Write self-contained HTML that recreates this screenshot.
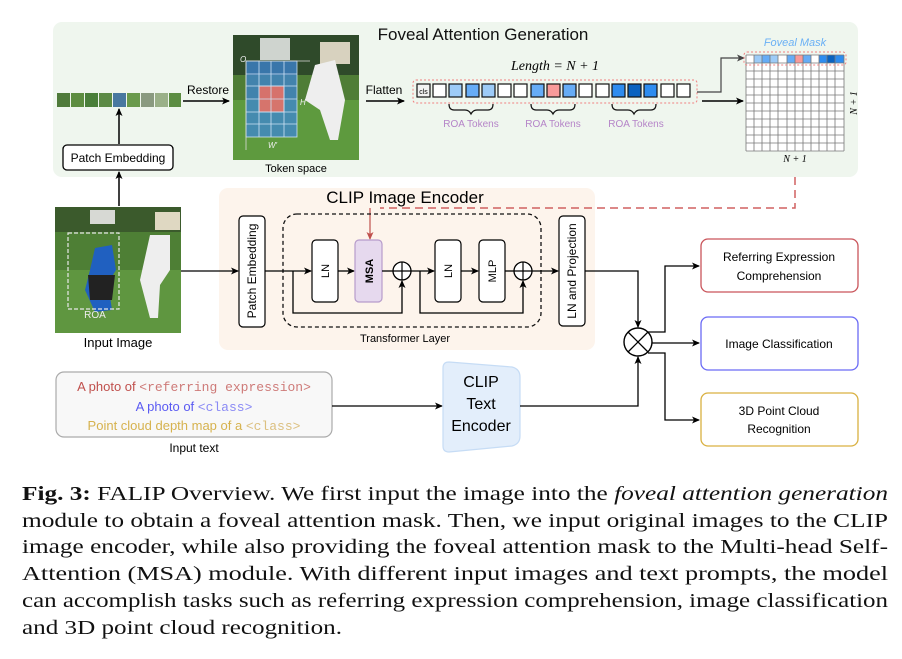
<!DOCTYPE html>
<html><head><meta charset="utf-8"><style>
html,body{margin:0;padding:0;background:#fff;}
svg{display:block;}
text{font-family:"Liberation Sans",sans-serif;}
.cap{font-family:"Liberation Serif",serif;font-size:20px;fill:#111;}
</style></head><body>
<svg width="902" height="659" viewBox="0 0 902 659" xmlns="http://www.w3.org/2000/svg">
<defs>
<marker id="ah" markerWidth="8" markerHeight="8" refX="7" refY="4" orient="auto" markerUnits="userSpaceOnUse"><path d="M0,0.5 L8,4 L0,7.5 L2,4z" fill="#000"/></marker>
<marker id="ahr" markerWidth="8" markerHeight="8" refX="7" refY="4" orient="auto" markerUnits="userSpaceOnUse"><path d="M0,0.5 L8,4 L0,7.5 L2,4z" fill="#c0504d"/></marker>
<marker id="ahg" markerWidth="8" markerHeight="8" refX="7" refY="4" orient="auto" markerUnits="userSpaceOnUse"><path d="M0,0.5 L8,4 L0,7.5 L2,4z" fill="#444"/></marker>
</defs>

<rect x="53" y="22" width="805" height="155" rx="9" fill="#eff6ee"/>
<text x="483" y="40" font-size="17" text-anchor="middle" fill="#111">Foveal Attention Generation</text>

<g>
<rect x="57" y="93" width="13" height="14" fill="#4f7a3a"/>
<rect x="71" y="93" width="13" height="14" fill="#5d8d40"/>
<rect x="85" y="93" width="13" height="14" fill="#4a7f3a"/>
<rect x="99" y="93" width="13" height="14" fill="#5c8a45"/>
<rect x="113" y="93" width="13" height="14" fill="#4878a0"/>
<rect x="127" y="93" width="13" height="14" fill="#6a9a4c"/>
<rect x="141" y="93" width="13" height="14" fill="#8a9a80"/>
<rect x="155" y="93" width="13" height="14" fill="#9ab088"/>
<rect x="169" y="93" width="12" height="14" fill="#5c8d42"/>
</g>
<line x1="119" y1="144" x2="119" y2="109" stroke="#000" stroke-width="1.5" marker-end="url(#ah)"/>
<rect x="63" y="145" width="110" height="25" rx="4" fill="#fff" stroke="#000" stroke-width="1.3"/>
<text x="118" y="162" font-size="12" text-anchor="middle">Patch Embedding</text>
<line x1="119" y1="206" x2="119" y2="172" stroke="#000" stroke-width="1.5" marker-end="url(#ah)"/>

<text x="208" y="94" font-size="12" text-anchor="middle">Restore</text>
<line x1="183" y1="101" x2="229" y2="101" stroke="#000" stroke-width="1.5" marker-end="url(#ah)"/>

<rect x="233" y="35" width="126" height="125" fill="#4f7d36"/>
<rect x="233" y="35" width="126" height="40" fill="#2f4a2a"/>
<rect x="260" y="38" width="30" height="22" fill="#cfd4cf"/>
<rect x="320" y="42" width="30" height="22" fill="#d8d2bf"/>
<rect x="233" y="100" width="126" height="60" fill="#5e9a3e"/>
<path d="M315,65 L335,60 L345,100 L338,140 L330,140 L320,110 L305,100z" fill="#eee"/>
<g stroke="#cfe3f5" stroke-width="0.8">
<rect x="246" y="61" width="51" height="76" fill="#3d86d6" fill-opacity="0.75"/>
<rect x="259" y="86" width="25" height="26" fill="#f07060" fill-opacity="0.85"/>
<line x1="259" y1="61" x2="259" y2="137"/><line x1="271" y1="61" x2="271" y2="137"/><line x1="284" y1="61" x2="284" y2="137"/>
<line x1="246" y1="74" x2="297" y2="74"/><line x1="246" y1="86" x2="297" y2="86"/><line x1="246" y1="99" x2="297" y2="99"/><line x1="246" y1="112" x2="297" y2="112"/><line x1="246" y1="124" x2="297" y2="124"/>
</g>
<line x1="246" y1="61" x2="310" y2="61" stroke="#ddd" stroke-width="0.8"/>
<line x1="246" y1="61" x2="246" y2="150" stroke="#ddd" stroke-width="0.8"/>
<text x="240" y="62" font-size="8" fill="#eee" font-style="italic">O</text>
<text x="300" y="105" font-size="8" fill="#eee" font-style="italic">H'</text>
<text x="268" y="148" font-size="8" fill="#eee" font-style="italic">W'</text>
<text x="296" y="172" font-size="11" text-anchor="middle">Token space</text>

<text x="384" y="94" font-size="12" text-anchor="middle">Flatten</text>
<line x1="366" y1="101" x2="404" y2="101" stroke="#000" stroke-width="1.5" marker-end="url(#ah)"/>

<text x="555" y="70" font-size="14" text-anchor="middle" font-style="italic" style="font-family:'Liberation Serif',serif">Length = N + 1</text>
<rect x="413" y="80" width="284" height="23" rx="3" fill="none" stroke="#f08080" stroke-dasharray="2,2"/>
<g stroke="#111" stroke-width="1.2">
<rect x="417" y="84" width="13" height="13" fill="#f2f2f2"/>
<rect x="433" y="84" width="13" height="13" fill="#fff"/>
<rect x="449" y="84" width="13" height="13" fill="#9dcbf7"/>
<rect x="466" y="84" width="13" height="13" fill="#66acf6"/>
<rect x="482" y="84" width="13" height="13" fill="#9dcbf7"/>
<rect x="498" y="84" width="13" height="13" fill="#fff"/>
<rect x="514" y="84" width="13" height="13" fill="#fff"/>
<rect x="531" y="84" width="13" height="13" fill="#66acf6"/>
<rect x="547" y="84" width="13" height="13" fill="#f89a9a"/>
<rect x="563" y="84" width="13" height="13" fill="#66acf6"/>
<rect x="579" y="84" width="13" height="13" fill="#fff"/>
<rect x="596" y="84" width="13" height="13" fill="#fff"/>
<rect x="612" y="84" width="13" height="13" fill="#2e8cef"/>
<rect x="628" y="84" width="13" height="13" fill="#0a62c0"/>
<rect x="644" y="84" width="13" height="13" fill="#2e8cef"/>
<rect x="661" y="84" width="13" height="13" fill="#fff"/>
<rect x="677" y="84" width="13" height="13" fill="#fff"/>
</g>
<text x="423.5" y="94" font-size="7" text-anchor="middle">cls</text>
<g fill="none" stroke="#111" stroke-width="1.2">
<path d="M449,104 q0,6 5,6 h11 q4,0 6,4 q2,-4 6,-4 h11 q5,0 5,-6"/>
<path d="M531,104 q0,6 5,6 h11 q4,0 6,4 q2,-4 6,-4 h11 q5,0 5,-6"/>
<path d="M612,104 q0,6 5,6 h11 q4,0 6,4 q2,-4 6,-4 h11 q5,0 5,-6"/>
</g>
<g font-size="10" fill="#b584c8" text-anchor="middle">
<text x="471" y="127">ROA Tokens</text><text x="553" y="127">ROA Tokens</text><text x="636" y="127">ROA Tokens</text>
</g>
<polyline points="697,92 721,92 721,58 744,58" fill="none" stroke="#444" stroke-width="1.2" marker-end="url(#ahg)"/>
<line x1="702" y1="101" x2="743" y2="101" stroke="#000" stroke-width="1.5" marker-end="url(#ah)"/>

<text x="795" y="46" font-size="11" text-anchor="middle" font-style="italic" fill="#6ab0f5">Foveal Mask</text>
<g>
<rect x="746" y="55" width="98" height="96" fill="#fff"/>
<rect x="754" y="55" width="8" height="8" fill="#9dcbf7"/>
<rect x="762" y="55" width="8" height="8" fill="#66acf6"/>
<rect x="770" y="55" width="8" height="8" fill="#9dcbf7"/>
<rect x="787" y="55" width="8" height="8" fill="#66acf6"/>
<rect x="795" y="55" width="8" height="8" fill="#f89a9a"/>
<rect x="803" y="55" width="8" height="8" fill="#66acf6"/>
<rect x="819" y="55" width="8" height="8" fill="#2e8cef"/>
<rect x="827" y="55" width="8" height="8" fill="#0a62c0"/>
<rect x="835" y="55" width="9" height="8" fill="#2e8cef"/>
<g stroke="#777" stroke-width="0.8">
<line x1="746" y1="55" x2="746" y2="151"/><line x1="754" y1="55" x2="754" y2="151"/><line x1="762" y1="55" x2="762" y2="151"/><line x1="770" y1="55" x2="770" y2="151"/><line x1="778" y1="55" x2="778" y2="151"/><line x1="787" y1="55" x2="787" y2="151"/><line x1="795" y1="55" x2="795" y2="151"/><line x1="803" y1="55" x2="803" y2="151"/><line x1="811" y1="55" x2="811" y2="151"/><line x1="819" y1="55" x2="819" y2="151"/><line x1="827" y1="55" x2="827" y2="151"/><line x1="835" y1="55" x2="835" y2="151"/><line x1="844" y1="55" x2="844" y2="151"/>
<line x1="746" y1="55" x2="844" y2="55"/><line x1="746" y1="63" x2="844" y2="63"/><line x1="746" y1="71" x2="844" y2="71"/><line x1="746" y1="79" x2="844" y2="79"/><line x1="746" y1="87" x2="844" y2="87"/><line x1="746" y1="95" x2="844" y2="95"/><line x1="746" y1="103" x2="844" y2="103"/><line x1="746" y1="111" x2="844" y2="111"/><line x1="746" y1="119" x2="844" y2="119"/><line x1="746" y1="127" x2="844" y2="127"/><line x1="746" y1="135" x2="844" y2="135"/><line x1="746" y1="143" x2="844" y2="143"/><line x1="746" y1="151" x2="844" y2="151"/>
</g>
<rect x="744" y="52" width="102" height="13" rx="3" fill="none" stroke="#f08080" stroke-dasharray="2,2"/>
</g>
<text x="795" y="162" font-size="10" text-anchor="middle" font-style="italic" style="font-family:'Liberation Serif',serif">N + 1</text>
<text transform="translate(857,103) rotate(-90)" font-size="10" text-anchor="middle" font-style="italic" style="font-family:'Liberation Serif',serif">N + 1</text>

<rect x="219" y="188" width="376" height="162" rx="9" fill="#fdf4ec"/>
<text x="405" y="203" font-size="17" text-anchor="middle">CLIP Image Encoder</text>

<polyline points="795,177 795,208 380,208" fill="none" stroke="#d06060" stroke-width="1.5" stroke-dasharray="8,5"/>
<line x1="370" y1="208" x2="370" y2="239" stroke="#c0504d" stroke-width="1.2" marker-end="url(#ahr)"/>

<rect x="55" y="207" width="126" height="126" fill="#4e7f35"/>
<rect x="55" y="207" width="126" height="25" fill="#3b5a2c"/>
<rect x="90" y="210" width="25" height="14" fill="#d7d9d4"/>
<rect x="155" y="212" width="25" height="18" fill="#dfd8c2"/>
<rect x="55" y="270" width="126" height="63" fill="#5f9640"/>
<path d="M95,248 L112,245 L116,270 L108,283 L112,310 L95,312 L85,290 L90,270z" fill="#2060c0"/>
<path d="M88,275 L115,275 L112,300 L90,300z" fill="#222"/>
<path d="M150,235 L170,235 L170,270 L160,285 L158,318 L150,318 L140,280z" fill="#eee"/>
<rect x="68" y="233" width="51" height="76" fill="none" stroke="#e8e8e8" stroke-width="1.2" stroke-dasharray="4,2"/>
<text x="95" y="318" font-size="10" fill="#eee" text-anchor="middle">ROA</text>
<text x="118" y="347" font-size="13" text-anchor="middle">Input Image</text>

<line x1="181" y1="271" x2="238" y2="271" stroke="#000" stroke-width="1.3" marker-end="url(#ah)"/>
<rect x="239" y="216" width="26" height="111" rx="4" fill="#fff" stroke="#000" stroke-width="1.2"/>
<text transform="translate(256,271) rotate(-90)" font-size="12" text-anchor="middle">Patch Embedding</text>

<rect x="283" y="214" width="258" height="113" rx="14" fill="none" stroke="#111" stroke-width="1.3" stroke-dasharray="4,3"/>
<line x1="265" y1="271" x2="311" y2="271" stroke="#000" stroke-width="1.3" marker-end="url(#ah)"/>
<rect x="312" y="240" width="26" height="62" rx="4" fill="#fff" stroke="#000" stroke-width="1.2"/>
<text transform="translate(329,271) rotate(-90)" font-size="11" text-anchor="middle">LN</text>
<line x1="338" y1="271" x2="354" y2="271" stroke="#000" stroke-width="1.3" marker-end="url(#ah)"/>
<rect x="355" y="240" width="27" height="62" rx="4" fill="#e6d9ee" stroke="#b79ccb" stroke-width="1.2"/>
<text transform="translate(373,271) rotate(-90)" font-size="11" font-weight="bold" text-anchor="middle">MSA</text>
<line x1="382" y1="271" x2="393" y2="271" stroke="#000" stroke-width="1.3"/>
<circle cx="402" cy="271" r="9" fill="#fff" stroke="#000" stroke-width="1.3"/>
<line x1="393" y1="271" x2="411" y2="271" stroke="#000" stroke-width="1.2"/><line x1="402" y1="262" x2="402" y2="280" stroke="#000" stroke-width="1.2"/>
<polyline points="293,271 293,313 402,313 402,281" fill="none" stroke="#000" stroke-width="1.3" marker-end="url(#ah)"/>
<line x1="411" y1="271" x2="434" y2="271" stroke="#000" stroke-width="1.3" marker-end="url(#ah)"/>
<rect x="435" y="240" width="26" height="62" rx="4" fill="#fff" stroke="#000" stroke-width="1.2"/>
<text transform="translate(452,271) rotate(-90)" font-size="11" text-anchor="middle">LN</text>
<line x1="461" y1="271" x2="478" y2="271" stroke="#000" stroke-width="1.3" marker-end="url(#ah)"/>
<rect x="479" y="240" width="26" height="62" rx="4" fill="#fff" stroke="#000" stroke-width="1.2"/>
<text transform="translate(496,271) rotate(-90)" font-size="11" text-anchor="middle">MLP</text>
<line x1="505" y1="271" x2="514" y2="271" stroke="#000" stroke-width="1.3"/>
<circle cx="523" cy="271" r="9" fill="#fff" stroke="#000" stroke-width="1.3"/>
<line x1="514" y1="271" x2="532" y2="271" stroke="#000" stroke-width="1.2"/><line x1="523" y1="262" x2="523" y2="280" stroke="#000" stroke-width="1.2"/>
<polyline points="420,271 420,313 523,313 523,281" fill="none" stroke="#000" stroke-width="1.3" marker-end="url(#ah)"/>
<line x1="532" y1="271" x2="558" y2="271" stroke="#000" stroke-width="1.3" marker-end="url(#ah)"/>
<rect x="559" y="216" width="26" height="110" rx="4" fill="#fff" stroke="#000" stroke-width="1.2"/>
<text transform="translate(576,271) rotate(-90)" font-size="12" text-anchor="middle">LN and Projection</text>
<text x="405" y="342" font-size="11" text-anchor="middle">Transformer Layer</text>

<polyline points="585,271 638,271 638,327" fill="none" stroke="#000" stroke-width="1.3" marker-end="url(#ah)"/>
<circle cx="638" cy="342" r="14" fill="#fff" stroke="#000" stroke-width="1.4"/>
<line x1="628" y1="332" x2="648" y2="352" stroke="#000" stroke-width="1.3"/><line x1="648" y1="332" x2="628" y2="352" stroke="#000" stroke-width="1.3"/>
<polyline points="648,332 665,332 665,266 699,266" fill="none" stroke="#000" stroke-width="1.3" marker-end="url(#ah)"/>
<line x1="652" y1="343" x2="699" y2="343" stroke="#000" stroke-width="1.3" marker-end="url(#ah)"/>
<polyline points="648,353 665,353 665,420 699,420" fill="none" stroke="#000" stroke-width="1.3" marker-end="url(#ah)"/>

<rect x="701" y="239" width="157" height="53" rx="7" fill="#fff" stroke="#c9545a" stroke-width="1.3"/>
<text x="779" y="261" font-size="12" text-anchor="middle">Referring Expression</text>
<text x="779" y="280" font-size="12" text-anchor="middle">Comprehension</text>
<rect x="701" y="317" width="157" height="53" rx="7" fill="#fff" stroke="#6a6af5" stroke-width="1.3"/>
<text x="779" y="348" font-size="12" text-anchor="middle">Image Classification</text>
<rect x="701" y="393" width="157" height="53" rx="7" fill="#fff" stroke="#d9b040" stroke-width="1.3"/>
<text x="779" y="415" font-size="12" text-anchor="middle">3D Point Cloud</text>
<text x="779" y="433" font-size="12" text-anchor="middle">Recognition</text>

<rect x="56" y="372" width="276" height="65" rx="8" fill="#f8f8f8" stroke="#aaa" stroke-width="1.2"/>
<text x="194" y="391" font-size="13" text-anchor="middle"><tspan fill="#c0504d">A photo of </tspan><tspan fill="#c0504d" fill-opacity="0.75" style="font-family:'Liberation Mono',monospace">&lt;referring expression&gt;</tspan></text>
<text x="194" y="411" font-size="13" text-anchor="middle"><tspan fill="#5a5af2">A photo of </tspan><tspan fill="#8a8af5" style="font-family:'Liberation Mono',monospace">&lt;class&gt;</tspan></text>
<text x="194" y="430" font-size="13" text-anchor="middle"><tspan fill="#d6b24e">Point cloud depth map of a </tspan><tspan fill="#dcc080" style="font-family:'Liberation Mono',monospace">&lt;class&gt;</tspan></text>
<text x="194" y="452" font-size="12" text-anchor="middle">Input text</text>
<line x1="332" y1="406" x2="442" y2="406" stroke="#000" stroke-width="1.3" marker-end="url(#ah)"/>

<path d="M449,362 Q443,362 443,368 L443,446 Q443,452 449,452 L512,446 Q520,444 520,436 L520,377 Q520,369 512,367 Z" fill="#e3eefb" stroke="#c6dcf5" stroke-width="1.2"/>
<text x="481" y="387" font-size="16" text-anchor="middle">CLIP</text>
<text x="481" y="409" font-size="16" text-anchor="middle">Text</text>
<text x="481" y="431" font-size="16" text-anchor="middle">Encoder</text>
<polyline points="520,406 638,406 638,357" fill="none" stroke="#000" stroke-width="1.3" marker-end="url(#ah)"/>

<text class="cap" x="22" y="500" textLength="866" lengthAdjust="spacingAndGlyphs"><tspan font-weight="bold">Fig. 3:</tspan> FALIP Overview. We first input the image into the <tspan font-style="italic">foveal attention generation</tspan></text>
<text class="cap" x="22" y="527" textLength="866" lengthAdjust="spacingAndGlyphs">module to obtain a foveal attention mask. Then, we input original images to the CLIP</text>
<text class="cap" x="22" y="553" textLength="866" lengthAdjust="spacingAndGlyphs">image encoder, while also providing the foveal attention mask to the Multi-head Self-</text>
<text class="cap" x="22" y="580" textLength="866" lengthAdjust="spacingAndGlyphs">Attention (MSA) module. With different input images and text prompts, the model</text>
<text class="cap" x="22" y="607" textLength="866" lengthAdjust="spacingAndGlyphs">can accomplish tasks such as referring expression comprehension, image classification</text>
<text class="cap" x="22" y="634" textLength="320" lengthAdjust="spacingAndGlyphs">and 3D point cloud recognition.</text>
</svg>
</body></html>
